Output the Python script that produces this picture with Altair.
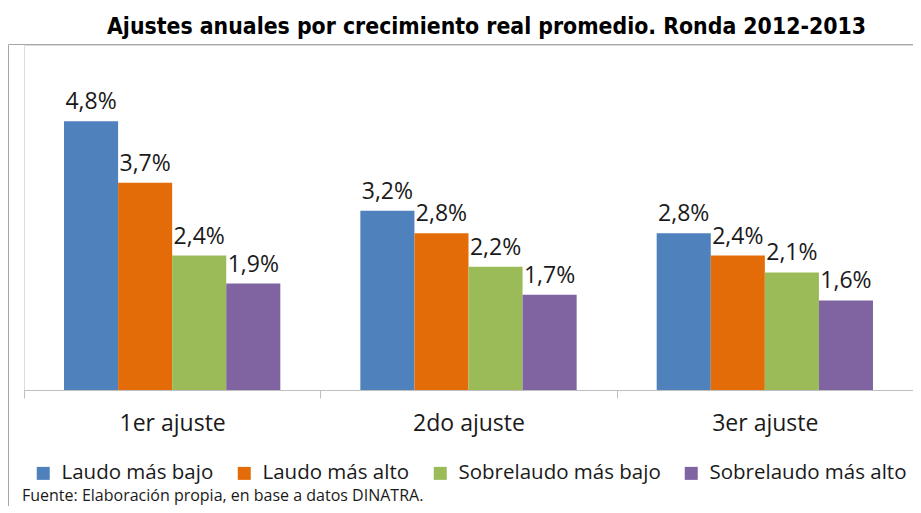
import altair as alt
import pandas as pd

grupos = ["1er ajuste", "2do ajuste", "3er ajuste"]
series = ["Laudo más bajo", "Laudo más alto", "Sobrelaudo más bajo", "Sobrelaudo más alto"]
laudo_bajo = [4.8, 3.2, 2.8]
laudo_alto = [3.7, 2.8, 2.4]
sobre_bajo = [2.4, 2.2, 2.1]
sobre_alto = [1.9, 1.7, 1.6]
colores = ["#4F81BD", "#E36C09", "#9BBB59", "#8064A2"]
titulo = "Ajustes anuales por crecimiento real promedio. Ronda 2012-2013"
fuente = "Fuente: Elaboración propia, en base a datos DINATRA."

rows = []
for s, vals in zip(series, [laudo_bajo, laudo_alto, sobre_bajo, sobre_alto]):
    for g, v in zip(grupos, vals):
        rows.append({"grupo": g, "serie": s, "valor": v})
df = pd.DataFrame(rows)

W, H = 889, 345
FONT = "Open Sans"

x = alt.X("grupo:N", sort=grupos, title=None,
          scale=alt.Scale(paddingInner=0, paddingOuter=0),
          axis=alt.Axis(labelAngle=0, labelFontSize=23, labelColor="#1a1a1a",
                        labelFont=FONT, labelPadding=14, domainColor="#bfbfbf",
                        domainWidth=1, ticks=True, tickBand="extent", tickSize=8,
                        tickColor="#bfbfbf"))
xo = alt.XOffset("serie:N", sort=series, scale=alt.Scale(paddingInner=0, paddingOuter=0.74))
y = alt.Y("valor:Q", scale=alt.Scale(domain=[0, 6.16], nice=False), axis=None)

base = alt.Chart(df)
bars = base.mark_bar().encode(
    x=x, xOffset=xo, y=y,
    color=alt.Color("serie:N", sort=series,
                    scale=alt.Scale(domain=series, range=colores),
                    legend=alt.Legend(title=None, orient="none", legendX=9, legendY=418,
                                      direction="horizontal", columns=4,
                                      symbolType="square", symbolSize=169,
                                      symbolStrokeWidth=0, labelFontSize=20.5,
                                      labelFont=FONT, labelColor="#1a1a1a",
                                      labelLimit=400,
                                      columnPadding=20, labelOffset=8)),
)
labels = base.mark_text(baseline="alphabetic", dy=-12, fontSize=23, font=FONT,
                        color="#1a1a1a").transform_calculate(
    etiqueta="replace(format(datum.valor, '.1f'), '.', ',') + '%'"
).encode(x=x, xOffset=xo, y=y, text="etiqueta:N")

one = pd.DataFrame({"t": [fuente]})
src = alt.Chart(one).mark_text(align="left", baseline="middle", fontSize=16,
                               font=FONT, color="#1a1a1a").encode(
    x=alt.value(-2), y=alt.value(451), text="t:N")

frame_left = alt.Chart(one).mark_rule(color="#a6a6a6", strokeWidth=1).encode(
    x=alt.value(-15.5), y=alt.value(-0.5), y2=alt.value(461))
frame_top = alt.Chart(one).mark_rule(color="#a6a6a6", strokeWidth=1).encode(
    x=alt.value(-15.5), x2=alt.value(W), y=alt.value(-0.5))

chart = alt.layer(frame_left, frame_top, bars, labels, src).properties(
    width=W, height=H,
    title=alt.TitleParams(titulo, font="Liberation Sans Narrow, DejaVu Sans Condensed, Liberation Sans",
                          fontSize=22.8, fontWeight="bold", color="#000000",
                          anchor="middle", dx=18, offset=5),
    autosize=alt.AutoSizeParams(type="none"),
    padding={"left": 16, "top": 37, "right": 0, "bottom": 117},
).configure_view(stroke=None).configure(font=FONT)

chart.save("out.html", embed_options={"renderer": "svg", "actions": False})
